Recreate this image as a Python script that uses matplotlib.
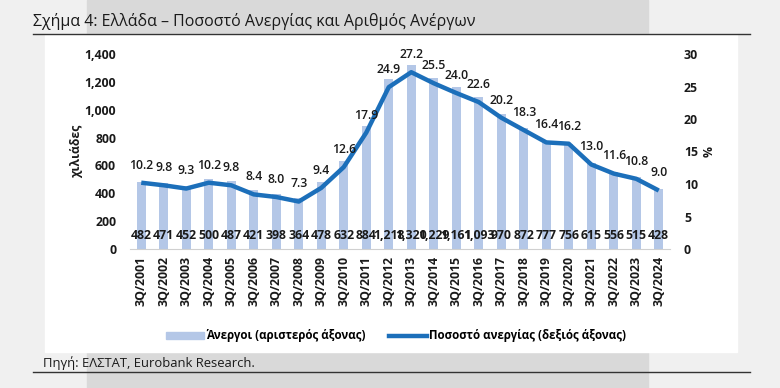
import matplotlib
matplotlib.use("Agg")
import matplotlib.pyplot as plt
import matplotlib.patches as mpatches
from matplotlib.lines import Line2D
import numpy as np

# data
periods = ["3Q/%d" % y for y in range(2001, 2025)]
unemployed = [482, 471, 452, 500, 487, 421, 398, 364, 478, 632, 884, 1218,
              1320, 1229, 1161, 1093, 970, 872, 777, 756, 615, 556, 515, 428]
rate = [10.2, 9.8, 9.3, 10.2, 9.8, 8.4, 8.0, 7.3, 9.4, 12.6, 17.9, 24.9,
        27.2, 25.5, 24.0, 22.6, 20.2, 18.3, 16.4, 16.2, 13.0, 11.6, 10.8, 9.0]
left_ticks = [0, 200, 400, 600, 800, 1000, 1200, 1400]
right_ticks = [0, 5, 10, 15, 20, 25, 30]

bar_col = "#b4c7e7"
line_col = "#1c6fba"
txt_col = "#1a1a1a"
fam = ["Open Sans", "DejaVu Sans"]
plt.rcParams["font.family"] = fam
fs = 8.8

W, H = 780, 388
fig = plt.figure(figsize=(W / 100, H / 100), dpi=100)
fig.patch.set_facecolor("#f0f0f0")

def px(x0, y0, x1, y1):
    return (x0 / W, 1 - y1 / H, (x1 - x0) / W, (y1 - y0) / H)

# background blocks
x, y, w, h = px(87, 0, 648, 388)
fig.add_artist(mpatches.Rectangle((x, y), w, h, transform=fig.transFigure,
                                  color="#d9d9d9", zorder=-3))
x, y, w, h = px(45, 34, 737, 352)
fig.add_artist(mpatches.Rectangle((x, y), w, h, transform=fig.transFigure,
                                  color="white", zorder=-2))
for yy in (34, 372):
    fig.add_artist(Line2D([33 / W, 750 / W], [1 - yy / H] * 2,
                          transform=fig.transFigure, color="#333333", lw=1.0))

fig.text(33 / W, 1 - 21 / H, "Σχήμα 4: Ελλάδα – Ποσοστό Ανεργίας και Αριθμός Ανέργων",
         fontsize=11.5, color=txt_col, va="center", ha="left")
fig.text(43 / W, 1 - 363 / H, "Πηγή: ΕΛΣΤΑΤ, Eurobank Research.",
         fontsize=9.4, color=txt_col, va="center", ha="left")

ax = fig.add_axes(px(130, 54, 670, 249))
ax.set_facecolor("none")
xs = np.arange(len(periods))
ax.bar(xs, unemployed, width=0.4, color=bar_col, zorder=1)
ax.set_xlim(-0.5, len(periods) - 0.5)
ax.set_ylim(0, 1400)
ax.set_yticks(left_ticks)
ax.set_yticklabels(["{:,}".format(v) for v in left_ticks])
ax.set_xticks(xs)
ax.set_xticklabels(periods, rotation=90)
for s in ("top", "right", "left"):
    ax.spines[s].set_visible(False)
ax.spines["bottom"].set_color("#d0d0d0")
ax.tick_params(length=0, labelsize=fs, labelcolor=txt_col)
ax.tick_params(axis="y", pad=10)
ax.tick_params(axis="x", pad=5)
for lab in ax.get_xticklabels() + ax.get_yticklabels():
    lab.set_fontweight("bold")
ax.set_ylabel("χιλιάδες", fontsize=fs, fontweight="bold", color=txt_col, labelpad=1)

for xi, v in zip(xs, unemployed):
    ax.text(xi, 100, "{:,}".format(v), ha="center", va="center",
            fontsize=fs, fontweight="bold", color=txt_col, zorder=3)

ax2 = ax.twinx()
ax2.plot(xs, rate, color=line_col, lw=3.2, solid_capstyle="butt", zorder=2)
ax2.set_ylim(0, 30)
ax2.set_yticks(right_ticks)
for s in ("top", "right", "left", "bottom"):
    ax2.spines[s].set_visible(False)
ax2.tick_params(length=0, labelsize=fs, labelcolor=txt_col, pad=10)
for lab in ax2.get_yticklabels():
    lab.set_fontweight("bold")
ax2.set_ylabel("%", fontsize=fs, fontweight="bold", color=txt_col, labelpad=3)
for xi, v in zip(xs, rate):
    ax2.annotate("%.1f" % v, (xi, v), xytext=(0, 8), textcoords="offset points",
                 ha="center", va="bottom", fontsize=fs, fontweight="semibold",
                 color=txt_col)

handles = [mpatches.Patch(color=bar_col, label="Άνεργοι (αριστερός άξονας)"),
           Line2D([], [], color=line_col, lw=3.2, label="Ποσοστό ανεργίας (δεξιός άξονας)")]
fig.legend(handles=handles, loc="center", bbox_to_anchor=(396 / W, 1 - 336 / H),
           ncol=2, frameon=False, handlelength=3.3, handleheight=0.5,
           handletextpad=0.2, columnspacing=2.0, prop={"weight": "bold", "size": 8.3})

fig.savefig("out.png", dpi=100, facecolor=fig.get_facecolor())
